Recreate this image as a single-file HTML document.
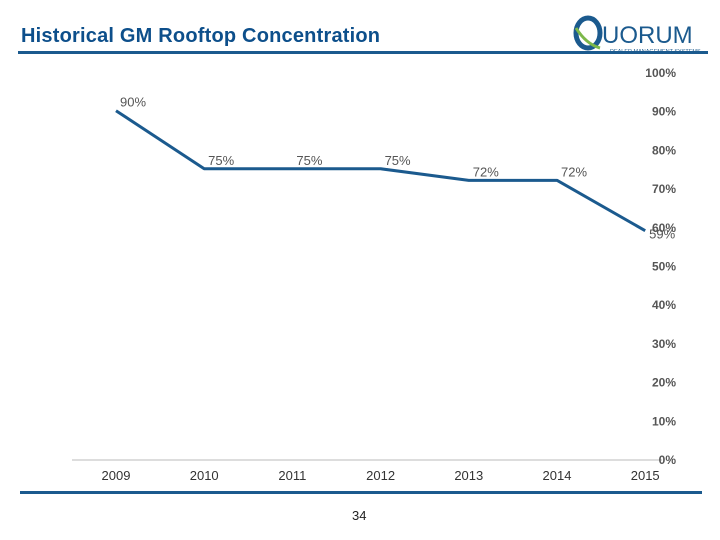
<!DOCTYPE html>
<html><head><meta charset="utf-8"><style>
body{margin:0;width:720px;height:540px;background:#fff;font-family:"Liberation Sans",sans-serif;overflow:hidden;position:relative}
.t{position:absolute}
</style></head><body>
<div class="t" style="left:21px;top:25px;font-size:20px;font-weight:bold;color:#0d4f8b;letter-spacing:0.2px">Historical GM Rooftop Concentration</div>
<div class="t" style="left:568px;top:14px;width:140px;height:40px">
<svg width="140" height="40"><ellipse cx="20" cy="19" rx="12" ry="15" fill="none" stroke="#1b5a8e" stroke-width="5"/><path d="M8 14 Q18 30 32 34" stroke="#7cb84a" stroke-width="3" fill="none"/>
<text x="34" y="29" font-family="Liberation Sans" font-size="24" fill="#1b5a8e">UORUM</text>
<text x="42" y="39" font-family="Liberation Sans" font-size="5.5" fill="#1b5a8e">DEALER MANAGEMENT SYSTEMS</text></svg></div>
<div class="t" style="left:18px;top:51px;width:690px;height:3px;background:#1b5a8e"></div>
<div class="t" style="left:20px;top:491px;width:682px;height:3px;background:#1b5a8e"></div>
<div class="t" style="left:352px;top:508px;font-size:13px;color:#222">34</div>
<svg id="c" class="t" style="left:0;top:0" width="720" height="540"></svg>
<script>
const years=["2009","2010","2011","2012","2013","2014","2015"];
const values=[90,75,75,75,72,72,59];
const ticks=[0,10,20,30,40,50,60,70,80,90,100];
const svg=document.getElementById('c');const NS="http://www.w3.org/2000/svg";
const x=i=>116+i*88.2;const y=v=>459-v*3.87;
function mk(t,a,txt){const e=document.createElementNS(NS,t);for(const k in a)e.setAttribute(k,a[k]);if(txt!==undefined)e.textContent=txt;svg.appendChild(e);return e;}
const ax=mk('line',{x1:72,x2:662,y1:460,y2:460,stroke:'#bbb','stroke-width':1});


ticks.forEach(v=>{const e=mk('text',{x:676,y:y(v)+5,'text-anchor':'end','font-size':12,'font-weight':'bold',fill:'#555'},v+'%');

});
years.forEach((yr,i)=>{const e=mk('text',{x:x(i),y:480,'text-anchor':'middle','font-size':13,fill:'#333'},yr);

});
const ln=mk('polyline',{points:values.map((v,i)=>x(i)+','+y(v)).join(' '),fill:'none',stroke:'#1b5a8e','stroke-width':3,'stroke-linejoin':'round'});


values.forEach((v,i)=>{const last=i===values.length-1;const e=mk('text',{x:x(i)+17,y:last?y(v)+8:y(v)-4,'text-anchor':'middle','font-size':13,fill:'#555'},v+'%');

});
</script>
</body></html>
